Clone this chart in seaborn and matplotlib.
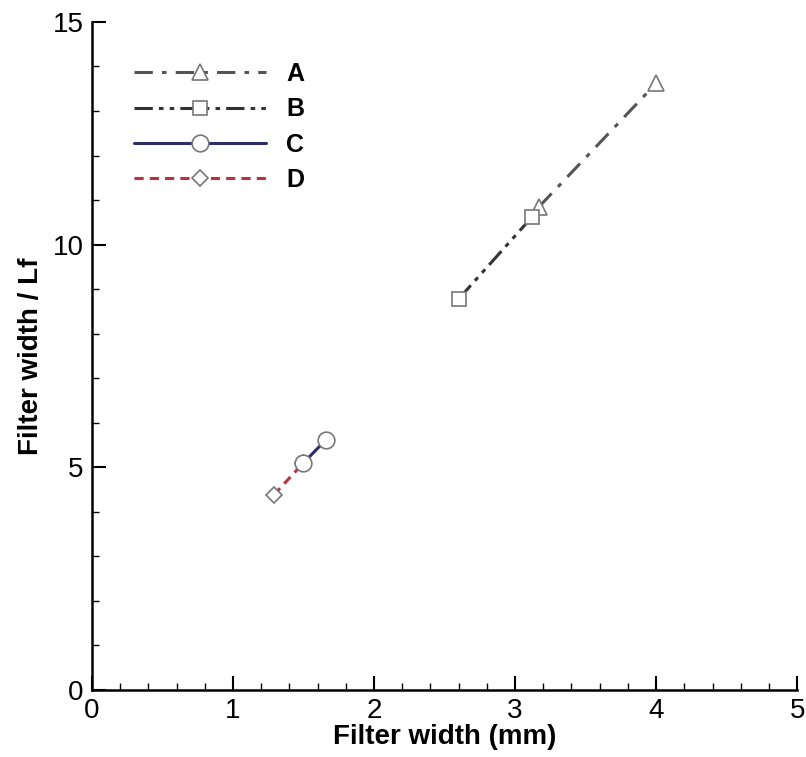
import numpy as np
import matplotlib
matplotlib.use("Agg")
import matplotlib.pyplot as plt
from matplotlib.ticker import MultipleLocator
import seaborn as sns

# data
a_x = [3.17, 4.0]
a_y = [10.85, 13.62]
b_x = [2.6, 3.12]
b_y = [8.78, 10.62]
c_x = [1.5, 1.66]
c_y = [5.1, 5.62]
d_x = [1.29, 1.5]
d_y = [4.38, 5.1]

labels = ['A', 'B', 'C', 'D']

sns.set_style("ticks")
plt.rcParams['font.family'] = ['Liberation Sans', 'DejaVu Sans']
plt.rcParams['text.color'] = 'black'
plt.rcParams['axes.labelcolor'] = 'black'
plt.rcParams['xtick.color'] = 'black'
plt.rcParams['ytick.color'] = 'black'
plt.rcParams['axes.edgecolor'] = 'black'

fig = plt.figure(figsize=(8.06, 7.57), dpi=100)
ax = fig.add_axes([0.114, 0.0885, 0.875, 0.8825])

series = [
    (a_x, a_y, '#555555', (6, 3, 1.5, 3), '^', 11, 3),
    (b_x, b_y, '#333333', (6, 2, 1.5, 2, 1.5, 2), 's', 10, 3),
    (c_x, c_y, '#2e2e66', None, 'o', 12, 4),
    (d_x, d_y, '#b8323f', (3, 2), 'D', 8, 2),
]

for (x, y, col, dash, mk, ms, z), lab in zip(series, labels):
    sns.lineplot(x=x, y=y, ax=ax, color=col, linewidth=2.2,
                 marker=mk, markersize=ms, markerfacecolor='white',
                 markeredgecolor='#777777', markeredgewidth=1.2,
                 label=lab, sort=False, zorder=z)
    l = ax.get_lines()[-1]
    if dash is None:
        l.set_linestyle('-')
    else:
        l.set_dashes(dash)

ax.set_xlim(0, 5)
ax.set_ylim(0, 15)
ax.xaxis.set_major_locator(MultipleLocator(1))
ax.xaxis.set_minor_locator(MultipleLocator(0.2))
ax.yaxis.set_major_locator(MultipleLocator(5))
ax.yaxis.set_minor_locator(MultipleLocator(1))
ax.tick_params(which='major', direction='in', length=10, width=1.5, labelsize=20, pad=6)
ax.tick_params(which='minor', direction='in', length=5, width=1.0)
for s in ['left', 'bottom']:
    ax.spines[s].set_linewidth(1.8)
sns.despine(ax=ax)

ax.set_xlabel('Filter width (mm)', fontsize=20, fontweight='bold', labelpad=0)
ax.set_ylabel('Filter width / Lf', fontsize=20, fontweight='bold', labelpad=6)

leg = ax.legend(loc='upper left', frameon=False, handlelength=5.3,
                prop={'weight': 'bold', 'size': 18},
                labelspacing=0.45, borderaxespad=0.0, bbox_to_anchor=(0.045, 0.955),
                handletextpad=0.8)

fig.savefig('out.png', dpi=100)
